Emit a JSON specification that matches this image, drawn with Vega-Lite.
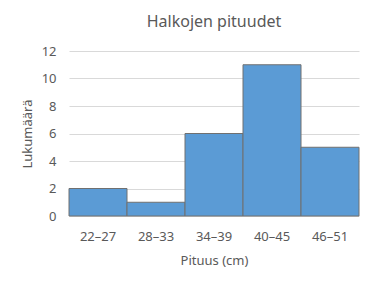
{
  "$schema": "https://vega.github.io/schema/vega-lite/v6.json",
  "autosize": "none",
  "width": 290,
  "height": 165,
  "padding": {"left": 69, "top": 51, "right": 15, "bottom": 73},
  "background": "white",
  "title": {"text": "Halkojen pituudet", "font": "Noto Sans", "fontSize": 16, "fontWeight": "normal", "color": "#595959", "offset": 15, "anchor": "middle"},
  "data": {"values": [
    {"pituus": "22–27", "lukumaara": 2},
    {"pituus": "28–33", "lukumaara": 1},
    {"pituus": "34–39", "lukumaara": 6},
    {"pituus": "40–45", "lukumaara": 11},
    {"pituus": "46–51", "lukumaara": 5}
  ]},
  "mark": {"type": "bar", "color": "#5B9BD5", "stroke": "#707070", "strokeWidth": 1},
  "encoding": {
    "x": {"field": "pituus", "type": "nominal", "sort": null,
      "scale": {"paddingInner": 0, "paddingOuter": 0},
      "axis": {"title": "Pituus (cm)", "labelAngle": 0, "ticks": false, "domain": false, "labelPadding": 14, "titlePadding": 11}},
    "y": {"field": "lukumaara", "type": "quantitative",
      "scale": {"domain": [0, 12]},
      "axis": {"title": "Lukumäärä", "values": [0,2,4,6,8,10,12], "ticks": false, "domain": false, "labelPadding": 13, "titlePadding": 7}}
  },
  "config": {
    "view": {"stroke": null},
    "axis": {"labelFont": "Noto Sans", "titleFont": "Noto Sans", "labelFontSize": 13, "titleFontSize": 13, "titleFontWeight": "normal", "labelColor": "#595959", "titleColor": "#595959", "gridColor": "#d9d9d9", "gridWidth": 1},
    "axisX": {"grid": false}
  }
}
